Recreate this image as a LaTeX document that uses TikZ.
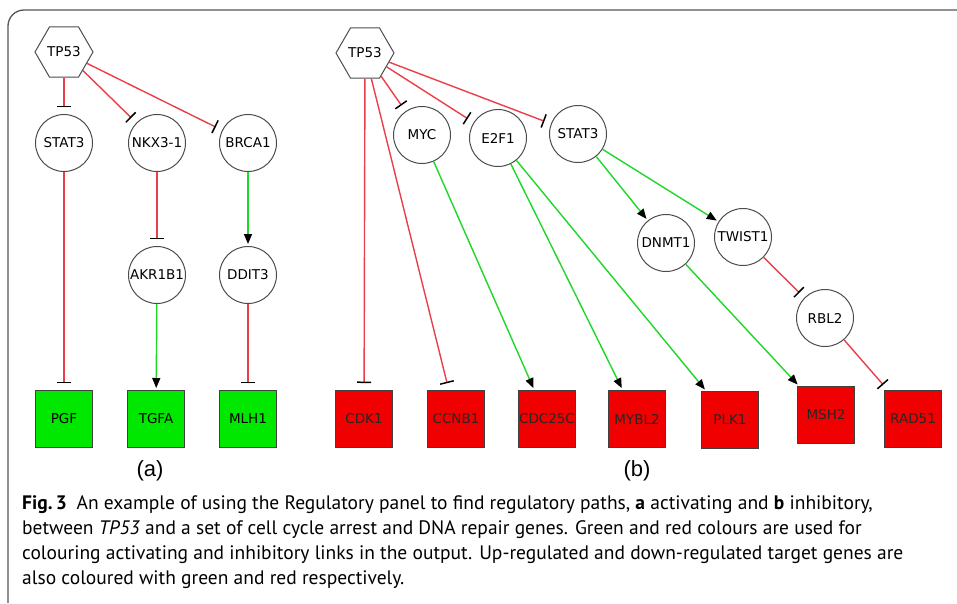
\documentclass[tikz,border=0pt]{standalone}
\usepackage{fontspec}
\usetikzlibrary{shapes.geometric,arrows.meta}
\newfontfamily\genefont{DejaVu Sans}
\newfontfamily\capfont{PT Sans}
\newfontfamily\panelfont{Liberation Sans}
\definecolor{upgreen}{RGB}{0,232,0}
\definecolor{downred}{RGB}{240,0,0}
\definecolor{actgreen}{RGB}{30,215,40}
\definecolor{inhred}{RGB}{236,62,72}
\definecolor{framegray}{RGB}{85,85,85}
\tikzset{
  gene/.style={circle, draw=black!70, line width=1pt, minimum size=57pt, inner sep=0pt,
    font=\genefont\fontsize{13.5}{15}\selectfont},
  hub/.style={regular polygon, regular polygon sides=6, draw=black!70, line width=1pt,
    minimum size=58pt, inner sep=0pt, font=\genefont\fontsize{13.5}{15}\selectfont},
  upbox/.style={rectangle, draw=black!75, line width=1pt, fill=upgreen, minimum size=57pt,
    inner sep=0pt, font=\genefont\fontsize{13.5}{15}\selectfont},
  downbox/.style={upbox, fill=downred, text=black!85},
  act/.style={draw=actgreen, line width=1.4pt,
    -{Triangle[color=black, fill=black, length=10pt, width=8pt]}, shorten >=2pt},
  inh/.style={draw=inhred, line width=1.4pt,
    -{Bar[color=black, width=14pt, line width=1.5pt]}, shorten >=7pt},
  capline/.style={anchor=base west, inner sep=0pt, font=\capfont\fontsize{19.5}{25}\selectfont},
  panel/.style={font=\panelfont\fontsize{22}{24}\selectfont, inner sep=0pt}
}
\begin{document}
\begin{tikzpicture}[x=1pt, y=-1pt]
\useasboundingbox (0,0) rectangle (957,603);
\draw[framegray, line width=1.3pt, rounded corners=16pt] (957,10) -- (8,10) -- (8,603);

% ---- panel (a)
\node[hub]  (tpa)   at (64,52)  {TP53};
\node[gene] (stat3a) at (64,143) {STAT3};
\node[gene] (nkx)   at (157,143) {NKX3-1};
\node[gene] (brca)  at (248,143) {BRCA1};
\node[gene] (akr)   at (157,275) {AKR1B1};
\node[gene] (ddit)  at (248,275) {DDIT3};
\node[upbox] (pgf)  at (64,419)  {PGF};
\node[upbox] (tgfa) at (156,419) {TGFA};
\node[upbox] (mlh)  at (248,419) {MLH1};

\draw[inh] (tpa) -- (stat3a);
\draw[inh] (tpa) -- (nkx);
\draw[inh] (tpa) -- (brca);
\draw[inh] (stat3a) -- (pgf);
\draw[inh] (nkx) -- (akr);
\draw[act] (akr) -- (tgfa);
\draw[act] (brca) -- (ddit);
\draw[inh] (ddit) -- (mlh);

% ---- panel (b)
\node[hub]  (tpb)   at (365,53)  {TP53};
\node[gene] (myc)   at (422,135) {MYC};
\node[gene] (e2f)   at (498,138) {E2F1};
\node[gene] (stat3b) at (578,134) {STAT3};
\node[gene] (dnmt)  at (666,243) {DNMT1};
\node[gene] (twist) at (743,237) {TWIST1};
\node[gene] (rbl)   at (825,318) {RBL2};
\node[downbox] (cdk)   at (364,419) {CDK1};
\node[downbox] (ccnb)  at (456,419) {CCNB1};
\node[downbox] (cdc)   at (547,419) {CDC25C};
\node[downbox] (mybl)  at (637,419) {MYBL2};
\node[downbox] (plk)   at (730,420) {PLK1};
\node[downbox] (msh)   at (826,415) {MSH2};
\node[downbox] (rad)   at (913,419) {RAD51};

\draw[inh] (tpb) -- (cdk);
\draw[inh] (tpb) -- (ccnb);
\draw[inh] (tpb) -- (myc);
\draw[inh] (tpb) -- (e2f);
\draw[inh] (tpb) -- (stat3b);
\draw[act] (myc) -- (cdc);
\draw[act] (e2f) -- (mybl);
\draw[act] (e2f) -- (plk);
\draw[act] (stat3b) -- (dnmt);
\draw[act] (stat3b) -- (twist);
\draw[act] (dnmt) -- (msh);
\draw[inh] (twist) -- (rbl);
\draw[inh] (rbl) -- (rad);

\node[panel] (laba) at (150,471) {(a)};
\node[panel] (labb) at (637,471) {(b)};

% ---- caption
\node[capline] (cap1) at (22,509) {\textbf{Fig.\,3}\hspace{0.5em}An example of using the Regulatory panel to find regulatory paths, \textbf{a} activating and \textbf{b} inhibitory,};
\node[capline] (cap2) at (22,534) {between \textit{TP53} and a set of cell cycle arrest and DNA repair genes. Green and red colours are used for};
\node[capline] (cap3) at (22,559) {colouring activating and inhibitory links in the output. Up-regulated and down-regulated target genes are};
\node[capline] (cap4) at (22,584) {also coloured with green and red respectively.};
\end{tikzpicture}
\end{document}
